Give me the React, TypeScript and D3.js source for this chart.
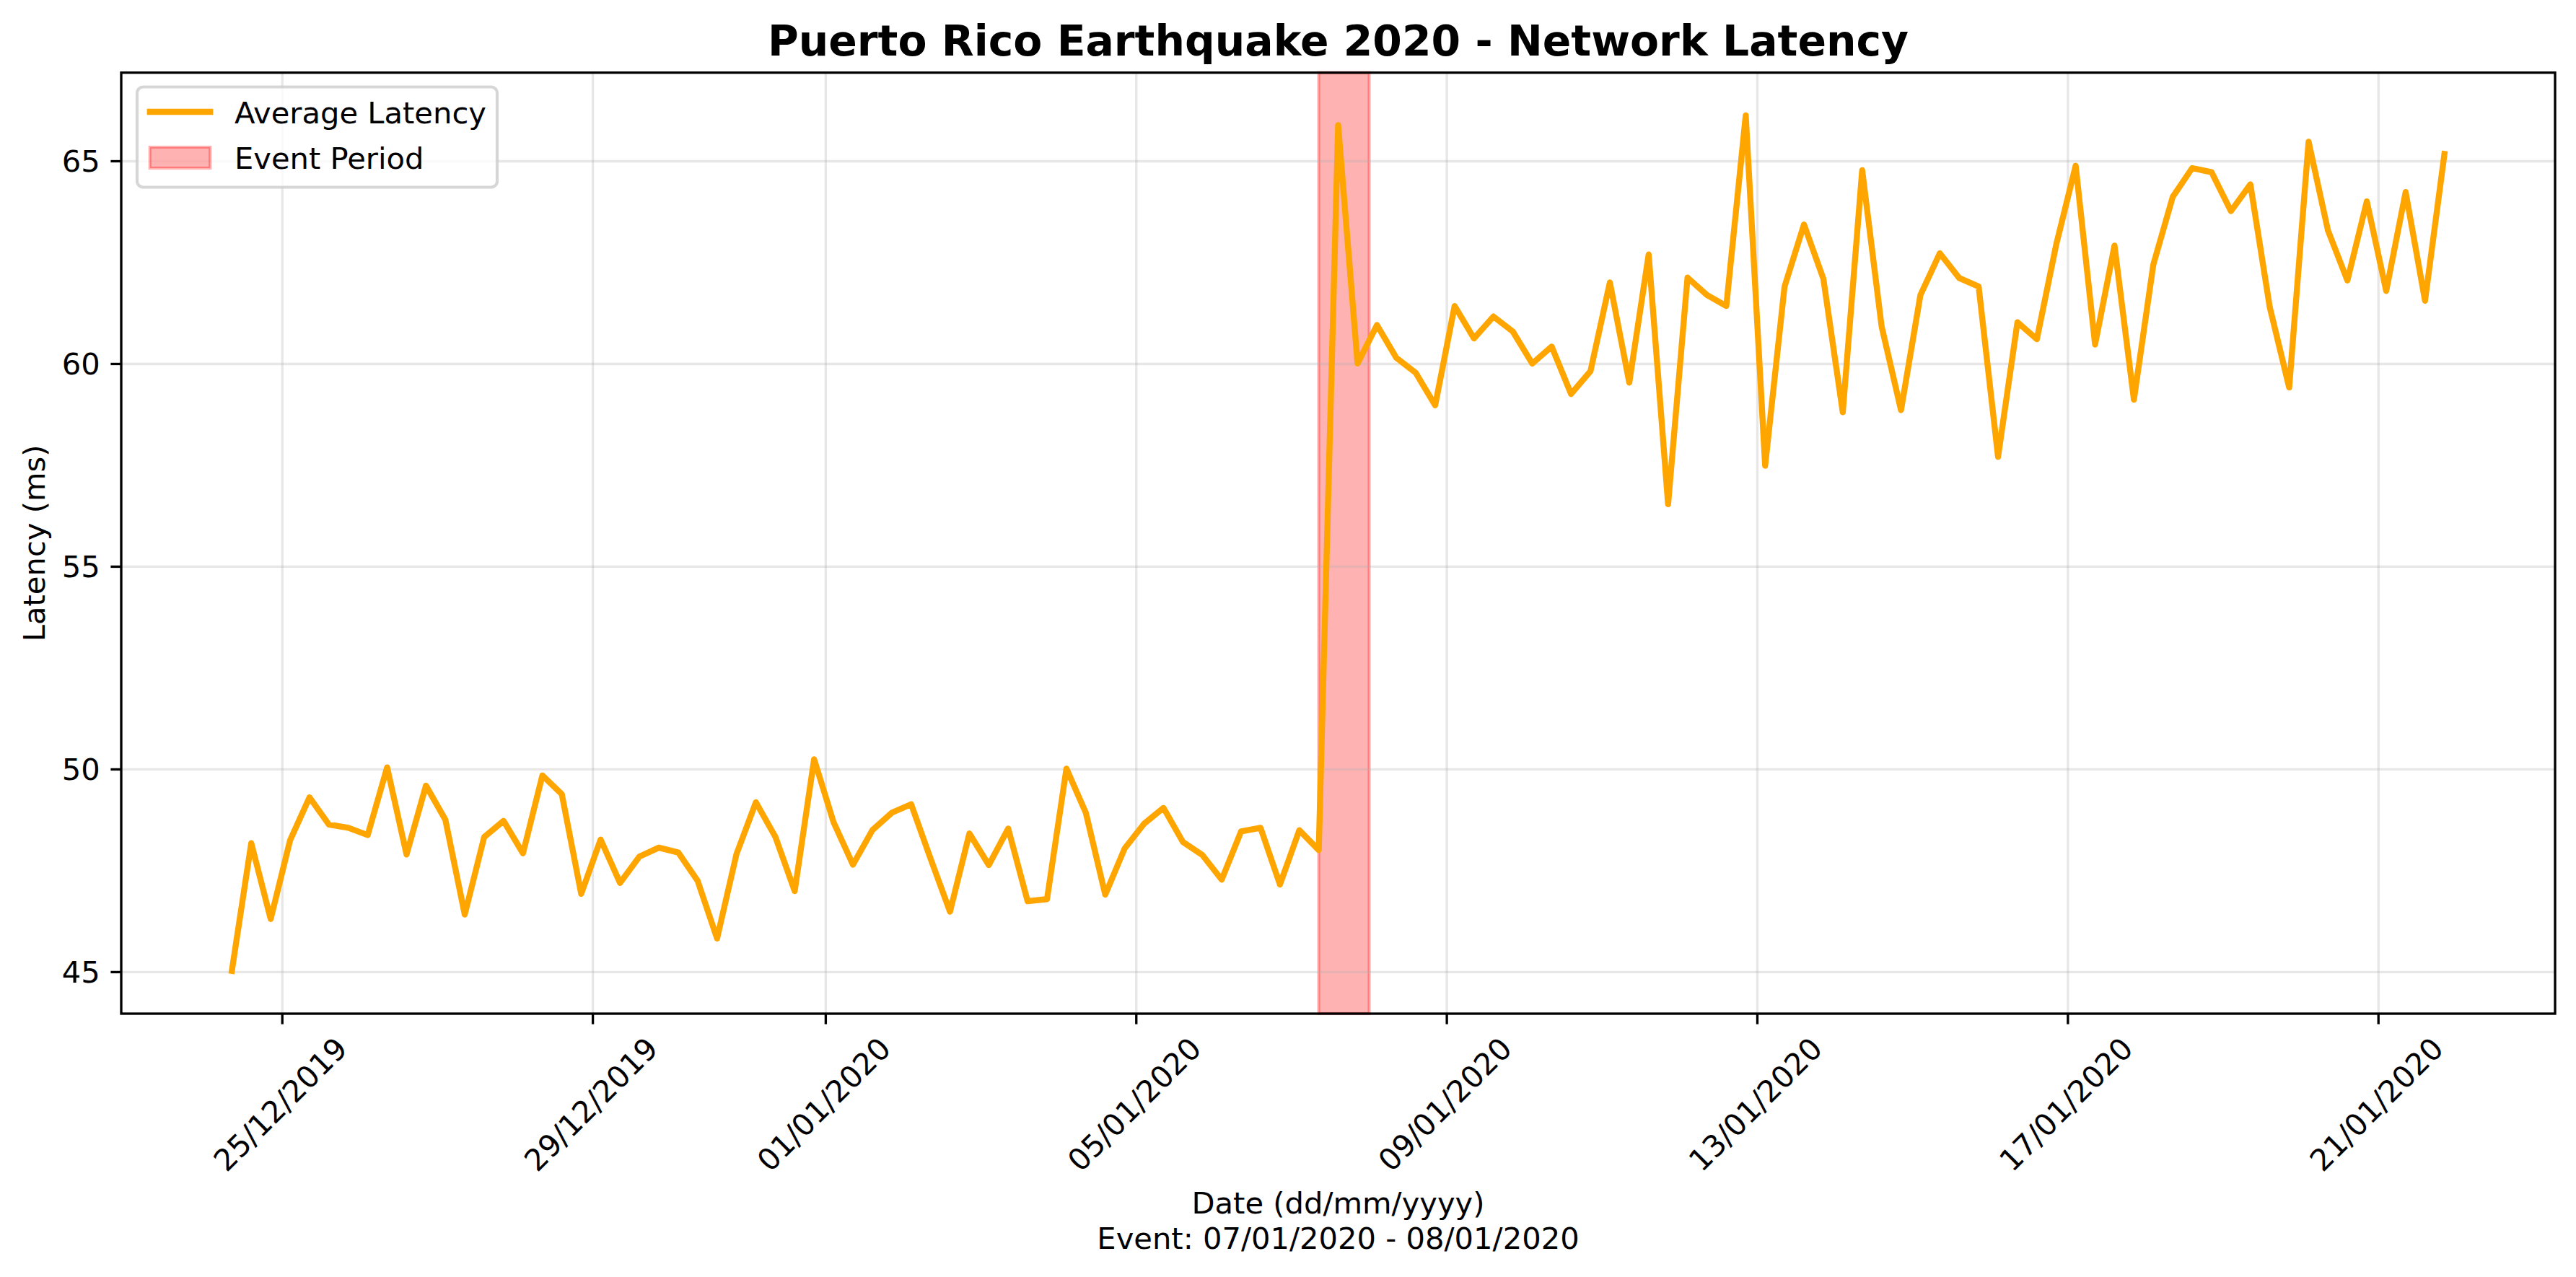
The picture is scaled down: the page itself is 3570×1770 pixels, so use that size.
import React, { useEffect, useRef } from "react";
import * as d3 from "d3";

// average latency (ms), one value every 6 hours starting 24/12/2019 08:24
const latency = [
  45.03, 48.18, 46.31, 48.25, 49.31, 48.64, 48.56, 48.38, 50.05, 47.9,
  49.6, 48.76, 46.42, 48.33, 48.73, 47.93, 49.85, 49.39, 46.93, 48.27,
  47.2, 47.85, 48.07, 47.95, 47.25, 45.83, 47.91, 49.19, 48.34, 47.0,
  50.25, 48.7, 47.65, 48.5, 48.93, 49.14, 47.8, 46.49, 48.42, 47.64,
  48.54, 46.75, 46.8, 50.02, 48.93, 46.91, 48.05, 48.66, 49.05, 48.21,
  47.89, 47.28, 48.47, 48.56, 47.16, 48.5, 48.01, 65.89, 60.01, 60.96,
  60.15, 59.78, 58.98, 61.43, 60.63, 61.17, 60.8, 60.01, 60.43, 59.26,
  59.82, 62.01, 59.54, 62.7, 56.54, 62.13, 61.7, 61.43, 66.13, 57.49,
  61.91, 63.44, 62.1, 58.81, 64.78, 60.93, 58.86, 61.7, 62.73, 62.12,
  61.91, 57.71, 61.03, 60.61, 62.95, 64.89, 60.48, 62.92, 59.12, 62.45,
  64.12, 64.83, 64.73, 63.77, 64.43, 61.4, 59.42, 65.48, 63.29, 62.06,
  64.01, 61.8, 64.24, 61.56, 65.18,
];
const firstSample = new Date(2019, 11, 24, 8, 24);
const sampleHours = 6;

const eventStart = new Date(2020, 0, 7, 8, 24);
const eventEnd = new Date(2020, 0, 8, 0, 0);

const xTickLabels = [
  "25/12/2019", "29/12/2019", "01/01/2020", "05/01/2020",
  "09/01/2020", "13/01/2020", "17/01/2020", "21/01/2020",
];
const yTickValues = [45, 50, 55, 60, 65];

const chartTitle = "Puerto Rico Earthquake 2020 - Network Latency";
const xLabelLines = ["Date (dd/mm/yyyy)", "Event: 07/01/2020 - 08/01/2020"];
const yLabel = "Latency (ms)";
const legendLabels = ["Average Latency", "Event Period"];

const W = 3570;
const H = 1770;
const FS = 41.67; // 10pt @ 300dpi
const LW = 3.33; // 0.8pt

export default function App() {
  const ref = useRef<SVGSVGElement | null>(null);

  useEffect(() => {
    const svg = d3.select(ref.current);
    svg.selectAll("*").remove();

    const left = 168, right = 3541, top = 100.7, bottom = 1405;
    const parse = d3.timeParse("%d/%m/%Y");

    const data = latency.map((v, i) => ({
      t: d3.timeHour.offset(firstSample, i * sampleHours),
      v,
    }));

    const tExt = d3.extent(data, (d) => d.t) as [Date, Date];
    const tPad = (+tExt[1] - +tExt[0]) * 0.05;
    const x = d3.scaleTime()
      .domain([new Date(+tExt[0] - tPad), new Date(+tExt[1] + tPad)])
      .range([left, right]);

    const vExt = d3.extent(data, (d) => d.v) as [number, number];
    const vPad = (vExt[1] - vExt[0]) * 0.05;
    const y = d3.scaleLinear()
      .domain([vExt[0] - vPad, vExt[1] + vPad])
      .range([bottom, top]);

    const tickDates = xTickLabels.map((s) => parse(s) as Date);

    svg.append("rect").attr("width", W).attr("height", H).attr("fill", "#ffffff");

    // event span
    svg.append("rect")
      .attr("x", x(eventStart))
      .attr("y", top)
      .attr("width", x(eventEnd) - x(eventStart))
      .attr("height", bottom - top)
      .attr("fill", "#ff0000").attr("fill-opacity", 0.3)
      .attr("stroke", "#ff0000").attr("stroke-opacity", 0.3)
      .attr("stroke-width", 4.17);

    // grid
    const grid = svg.append("g").attr("stroke", "#b0b0b0").attr("stroke-opacity", 0.3).attr("stroke-width", LW);
    grid.selectAll(".gx").data(tickDates).join("line").attr("class", "gx")
      .attr("x1", (d) => x(d)).attr("x2", (d) => x(d))
      .attr("y1", top).attr("y2", bottom);
    grid.selectAll(".gy").data(yTickValues).join("line").attr("class", "gy")
      .attr("x1", left).attr("x2", right)
      .attr("y1", (d) => y(d)).attr("y2", (d) => y(d));

    // latency line
    const line = d3.line<{ t: Date; v: number }>().x((d) => x(d.t)).y((d) => y(d.v));
    svg.append("path").datum(data)
      .attr("d", line)
      .attr("fill", "none").attr("stroke", "#ffa500").attr("stroke-width", 8.33)
      .attr("stroke-linejoin", "round").attr("stroke-linecap", "square");

    // spines
    svg.append("rect")
      .attr("x", left).attr("y", top)
      .attr("width", right - left).attr("height", bottom - top)
      .attr("fill", "none").attr("stroke", "#000").attr("stroke-width", LW);

    const txt = (sel: any) => sel.attr("font-family", "DejaVu Sans").attr("fill", "#000");

    // x ticks
    const xt = svg.append("g");
    xt.selectAll("line").data(tickDates).join("line")
      .attr("x1", (d) => x(d)).attr("x2", (d) => x(d))
      .attr("y1", bottom).attr("y2", bottom + 14.6)
      .attr("stroke", "#000").attr("stroke-width", LW);
    xt.selectAll("text").data(xTickLabels).join("text")
      .call(txt)
      .attr("font-size", FS)
      .attr("text-anchor", "middle")
      .attr("transform", (d, i) => `translate(${x(tickDates[i]) + 7.7},${1541}) rotate(-45)`)
      .text((d) => d);

    // y ticks
    const yt = svg.append("g");
    yt.selectAll("line").data(yTickValues).join("line")
      .attr("x1", left - 14.6).attr("x2", left)
      .attr("y1", (d) => y(d)).attr("y2", (d) => y(d))
      .attr("stroke", "#000").attr("stroke-width", LW);
    yt.selectAll("text").data(yTickValues).join("text")
      .call(txt)
      .attr("font-size", FS)
      .attr("text-anchor", "end")
      .attr("x", left - 29.2)
      .attr("y", (d) => y(d))
      .attr("dy", "0.36em")
      .text((d) => d);

    // title and axis labels
    svg.append("text").call(txt)
      .attr("x", (left + right) / 2).attr("y", 77)
      .attr("text-anchor", "middle")
      .attr("font-size", 58.33).attr("font-weight", "bold")
      .text(chartTitle);

    svg.selectAll(".xlabel").data(xLabelLines).join("text").attr("class", "xlabel")
      .call(txt)
      .attr("x", (left + right) / 2)
      .attr("y", (d, i) => 1682 + i * 49)
      .attr("text-anchor", "middle")
      .attr("font-size", FS)
      .text((d) => d);

    svg.append("text").call(txt)
      .attr("transform", `translate(62,${(top + bottom) / 2}) rotate(-90)`)
      .attr("text-anchor", "middle")
      .attr("font-size", FS)
      .text(yLabel);

    // legend
    const lg = svg.append("g");
    lg.append("rect")
      .attr("x", 190).attr("y", 120.5).attr("width", 499).attr("height", 139)
      .attr("rx", 8.3)
      .attr("fill", "#ffffff").attr("fill-opacity", 0.8)
      .attr("stroke", "#cccccc").attr("stroke-opacity", 0.8).attr("stroke-width", 4.17);
    lg.append("line")
      .attr("x1", 207.8).attr("x2", 291.2).attr("y1", 155).attr("y2", 155)
      .attr("stroke", "#ffa500").attr("stroke-width", 8.33).attr("stroke-linecap", "square");
    lg.append("rect")
      .attr("x", 207.8).attr("y", 204).attr("width", 83.4).attr("height", 29)
      .attr("fill", "#ff0000").attr("fill-opacity", 0.3)
      .attr("stroke", "#ff0000").attr("stroke-opacity", 0.3).attr("stroke-width", 4.17);
    lg.selectAll(".lt").data(legendLabels).join("text").attr("class", "lt")
      .call(txt)
      .attr("x", 325)
      .attr("y", (d, i) => [170.5, 233.5][i])
      .attr("font-size", FS)
      .text((d) => d);
  }, []);

  return (
    <div style={{ position: "absolute", left: 0, top: 0 }}>
      <svg ref={ref} width={W} height={H} style={{ display: "block" }} />
    </div>
  );
}
